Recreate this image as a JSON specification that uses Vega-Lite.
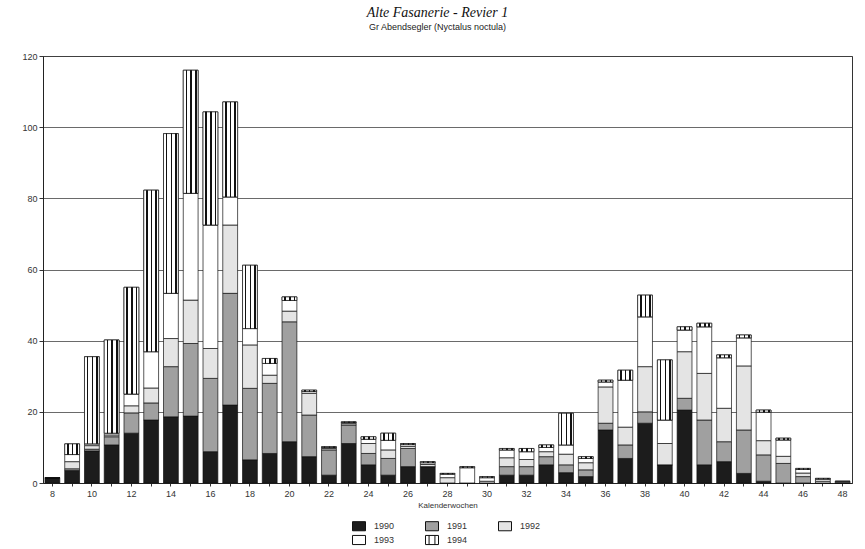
{
  "$schema": "https://vega.github.io/schema/vega-lite/v6.json",
  "autosize": {"type": "none"},
  "width": 809,
  "height": 427,
  "padding": {"left": 43, "top": 56, "right": 13, "bottom": 66},
  "background": "white",
  "title": {
    "text": "Alte Fasanerie - Revier 1",
    "subtitle": "Gr Abendsegler (Nyctalus noctula)",
    "font": "Liberation Serif",
    "fontStyle": "italic",
    "fontWeight": "normal",
    "fontSize": 14,
    "color": "#111",
    "subtitleFont": "Liberation Sans",
    "subtitleFontSize": 9,
    "subtitleColor": "#222",
    "subtitlePadding": 3,
    "offset": 20,
    "dx": -10
  },
  "data": {
    "values": [
      {"w": 8, "1990": 1.5, "1991": 0, "1992": 0, "1993": 0, "1994": 0},
      {"w": 9, "1990": 3.5, "1991": 0.5, "1992": 2, "1993": 2, "1994": 3},
      {"w": 10, "1990": 9, "1991": 0.5, "1992": 1, "1993": 0.5, "1994": 24.5},
      {"w": 11, "1990": 10.7, "1991": 2.3, "1992": 0.5, "1993": 0.5, "1994": 26.2},
      {"w": 12, "1990": 14, "1991": 5.7, "1992": 2, "1993": 3.3, "1994": 30},
      {"w": 13, "1990": 17.7, "1991": 4.8, "1992": 4.2, "1993": 10.2, "1994": 45.4},
      {"w": 14, "1990": 18.6, "1991": 14.1, "1992": 7.9, "1993": 12.7, "1994": 44.9},
      {"w": 15, "1990": 18.8, "1991": 20.4, "1992": 12.2, "1993": 30, "1994": 34.6},
      {"w": 16, "1990": 8.8, "1991": 20.6, "1992": 8.4, "1993": 34.7, "1994": 31.8},
      {"w": 17, "1990": 21.9, "1991": 31.4, "1992": 19.2, "1993": 7.9, "1994": 26.7},
      {"w": 18, "1990": 6.5, "1991": 20.1, "1992": 12.2, "1993": 4.6, "1994": 17.8},
      {"w": 19, "1990": 8.3, "1991": 19.7, "1992": 2.3, "1993": 3.3, "1994": 1.4},
      {"w": 20, "1990": 11.6, "1991": 33.7, "1992": 3, "1993": 3, "1994": 1},
      {"w": 21, "1990": 7.4, "1991": 11.7, "1992": 6.1, "1993": 0.5, "1994": 0.4},
      {"w": 22, "1990": 2.2, "1991": 7.1, "1992": 0.4, "1993": 0.3, "1994": 0.2},
      {"w": 23, "1990": 11.1, "1991": 5.2, "1992": 0.4, "1993": 0.3, "1994": 0.2},
      {"w": 24, "1990": 5.1, "1991": 3.2, "1992": 2.8, "1993": 1.2, "1994": 0.7},
      {"w": 25, "1990": 2.2, "1991": 4.7, "1992": 2.4, "1993": 2.7, "1994": 2},
      {"w": 26, "1990": 4.6, "1991": 5.1, "1992": 0.6, "1993": 0.5, "1994": 0.3},
      {"w": 27, "1990": 4.6, "1991": 0, "1992": 0.6, "1993": 0.5, "1994": 0.3},
      {"w": 28, "1990": 0, "1991": 0, "1992": 1.5, "1993": 1, "1994": 0.2},
      {"w": 29, "1990": 0, "1991": 0, "1992": 0, "1993": 4.3, "1994": 0.3},
      {"w": 30, "1990": 0, "1991": 0, "1992": 0.5, "1993": 1, "1994": 0.3},
      {"w": 31, "1990": 2.2, "1991": 2.4, "1992": 2.5, "1993": 2.2, "1994": 0.4},
      {"w": 32, "1990": 2.2, "1991": 2.4, "1992": 2, "1993": 2.2, "1994": 0.9},
      {"w": 33, "1990": 5.1, "1991": 2.3, "1992": 1.4, "1993": 1.2, "1994": 0.7},
      {"w": 34, "1990": 2.9, "1991": 2.2, "1992": 3, "1993": 2.6, "1994": 8.9},
      {"w": 35, "1990": 1.8, "1991": 1.9, "1992": 2, "1993": 1.2, "1994": 0.5},
      {"w": 36, "1990": 14.9, "1991": 1.9, "1992": 10.2, "1993": 1.4, "1994": 0.5},
      {"w": 37, "1990": 6.9, "1991": 3.8, "1992": 5, "1993": 13.2, "1994": 2.8},
      {"w": 38, "1990": 16.8, "1991": 3.2, "1992": 12.7, "1993": 14, "1994": 6.1},
      {"w": 39, "1990": 5.1, "1991": 0, "1992": 6, "1993": 6.6, "1994": 16.9},
      {"w": 40, "1990": 20.5, "1991": 3.3, "1992": 13.1, "1993": 6.1, "1994": 0.9},
      {"w": 41, "1990": 5.1, "1991": 12.6, "1992": 13.1, "1993": 13.1, "1994": 1},
      {"w": 42, "1990": 6, "1991": 5.6, "1992": 9.4, "1993": 14.2, "1994": 0.8},
      {"w": 43, "1990": 2.7, "1991": 12.2, "1992": 18, "1993": 7.9, "1994": 0.8},
      {"w": 44, "1990": 0.5, "1991": 7.4, "1992": 4, "1993": 8, "1994": 0.6},
      {"w": 45, "1990": 0, "1991": 5.5, "1992": 2, "1993": 4.6, "1994": 0.5},
      {"w": 46, "1990": 0, "1991": 1.8, "1992": 1, "1993": 1, "1994": 0.3},
      {"w": 47, "1990": 0, "1991": 0, "1992": 0.5, "1993": 0.6, "1994": 0.2},
      {"w": 48, "1990": 0, "1991": 0, "1992": 0.2, "1993": 0.3, "1994": 0}
    ]
  },
  "transform": [
    {"fold": ["1990", "1991", "1992", "1993", "1994"], "as": ["year", "value"]},
    {"stack": "value", "groupby": ["w"], "sort": [{"field": "year", "order": "ascending"}], "as": ["y0", "y1"]}
  ],
  "encoding": {
    "x": {
      "field": "w",
      "type": "ordinal",
      "scale": {"paddingInner": 0.25, "paddingOuter": 0.1},
      "axis": {
        "title": "Kalenderwochen",
        "labelAngle": 0,
        "labelExpr": "datum.value % 2 == 0 ? datum.label : ''",
        "labelFont": "Liberation Sans",
        "labelFontSize": 9,
        "labelColor": "#333",
        "titleFont": "Liberation Sans",
        "titleFontSize": 8,
        "titleFontWeight": "normal",
        "titleColor": "#333",
        "titlePadding": 3,
        "tickSize": 3,
        "tickColor": "#333",
        "labelPadding": 3,
        "domainColor": "#222",
        "grid": false
      }
    },
    "y": {
      "field": "y0",
      "type": "quantitative",
      "scale": {"domain": [0, 120], "nice": false},
      "axis": {
        "title": null,
        "values": [0, 20, 40, 60, 80, 100, 120],
        "labelFont": "Liberation Sans",
        "labelFontSize": 9,
        "labelColor": "#333",
        "tickSize": 4,
        "tickColor": "#333",
        "labelPadding": 2,
        "domainColor": "#222",
        "grid": true,
        "gridColor": "#444",
        "gridWidth": 0.8
      }
    },
    "y2": {"field": "y1"}
  },
  "layer": [
    {
      "mark": {"type": "bar", "stroke": "#111", "strokeWidth": 0.7},
      "encoding": {
        "color": {
          "field": "year",
          "type": "nominal",
          "scale": {
            "domain": ["1990", "1991", "1992", "1993", "1994"],
            "range": ["#1c1c1c", "#a0a0a0", "#e4e4e4", "#ffffff", "#ffffff"]
          },
          "legend": {
            "title": null,
            "orient": "none",
            "legendX": 309,
            "legendY": 463,
            "direction": "horizontal",
            "columns": 3,
            "columnPadding": 28,
            "rowPadding": 0,
            "symbolType": "M-1,-0.7H1V0.7H-1Z",
            "symbolSize": 169,
            "symbolStrokeColor": "#111",
            "symbolStrokeWidth": 1,
            "symbolOpacity": 1,
            "labelFont": "Liberation Sans",
            "labelFontSize": 9,
            "labelColor": "#333",
            "labelOffset": 8,
            "encode": {
              "symbols": {
                "update": {
                  "stroke": {"value": "#111"},
                  "strokeWidth": {"value": 1},
                  "opacity": {"value": 1},
                  "shape": [
                    {"test": "datum.label === '1994'", "value": "M-1,-0.7H1V0.7H-1Z M-0.45,-0.7V0.7 M0.45,-0.7V0.7"},
                    {"value": "M-1,-0.7H1V0.7H-1Z"}
                  ],
                  "fill": {"signal": "scale('color', datum.value)"}
                }
              }
            }
          }
        }
      }
    },
    {
      "transform": [{"filter": "datum.year === '1994' && datum.value > 0"}],
      "mark": {
        "type": "bar",
        "stroke": "#111",
        "strokeWidth": 0.7,
        "fill": {"gradient": "linear", "x1": 0, "y1": 0, "x2": 1, "y2": 0, "stops": [{"offset": 0, "color": "#fff"}, {"offset": 0.16, "color": "#fff"}, {"offset": 0.16, "color": "#111"}, {"offset": 0.26, "color": "#111"}, {"offset": 0.26, "color": "#fff"}, {"offset": 0.48, "color": "#fff"}, {"offset": 0.48, "color": "#111"}, {"offset": 0.58, "color": "#111"}, {"offset": 0.58, "color": "#fff"}, {"offset": 0.78, "color": "#fff"}, {"offset": 0.78, "color": "#111"}, {"offset": 0.9, "color": "#111"}, {"offset": 0.9, "color": "#fff"}, {"offset": 1, "color": "#fff"}]}
      }
    }
  ],
  "config": {
    "view": {"stroke": "#333", "strokeWidth": 1},
    "axis": {"gridOpacity": 1}
  }
}
